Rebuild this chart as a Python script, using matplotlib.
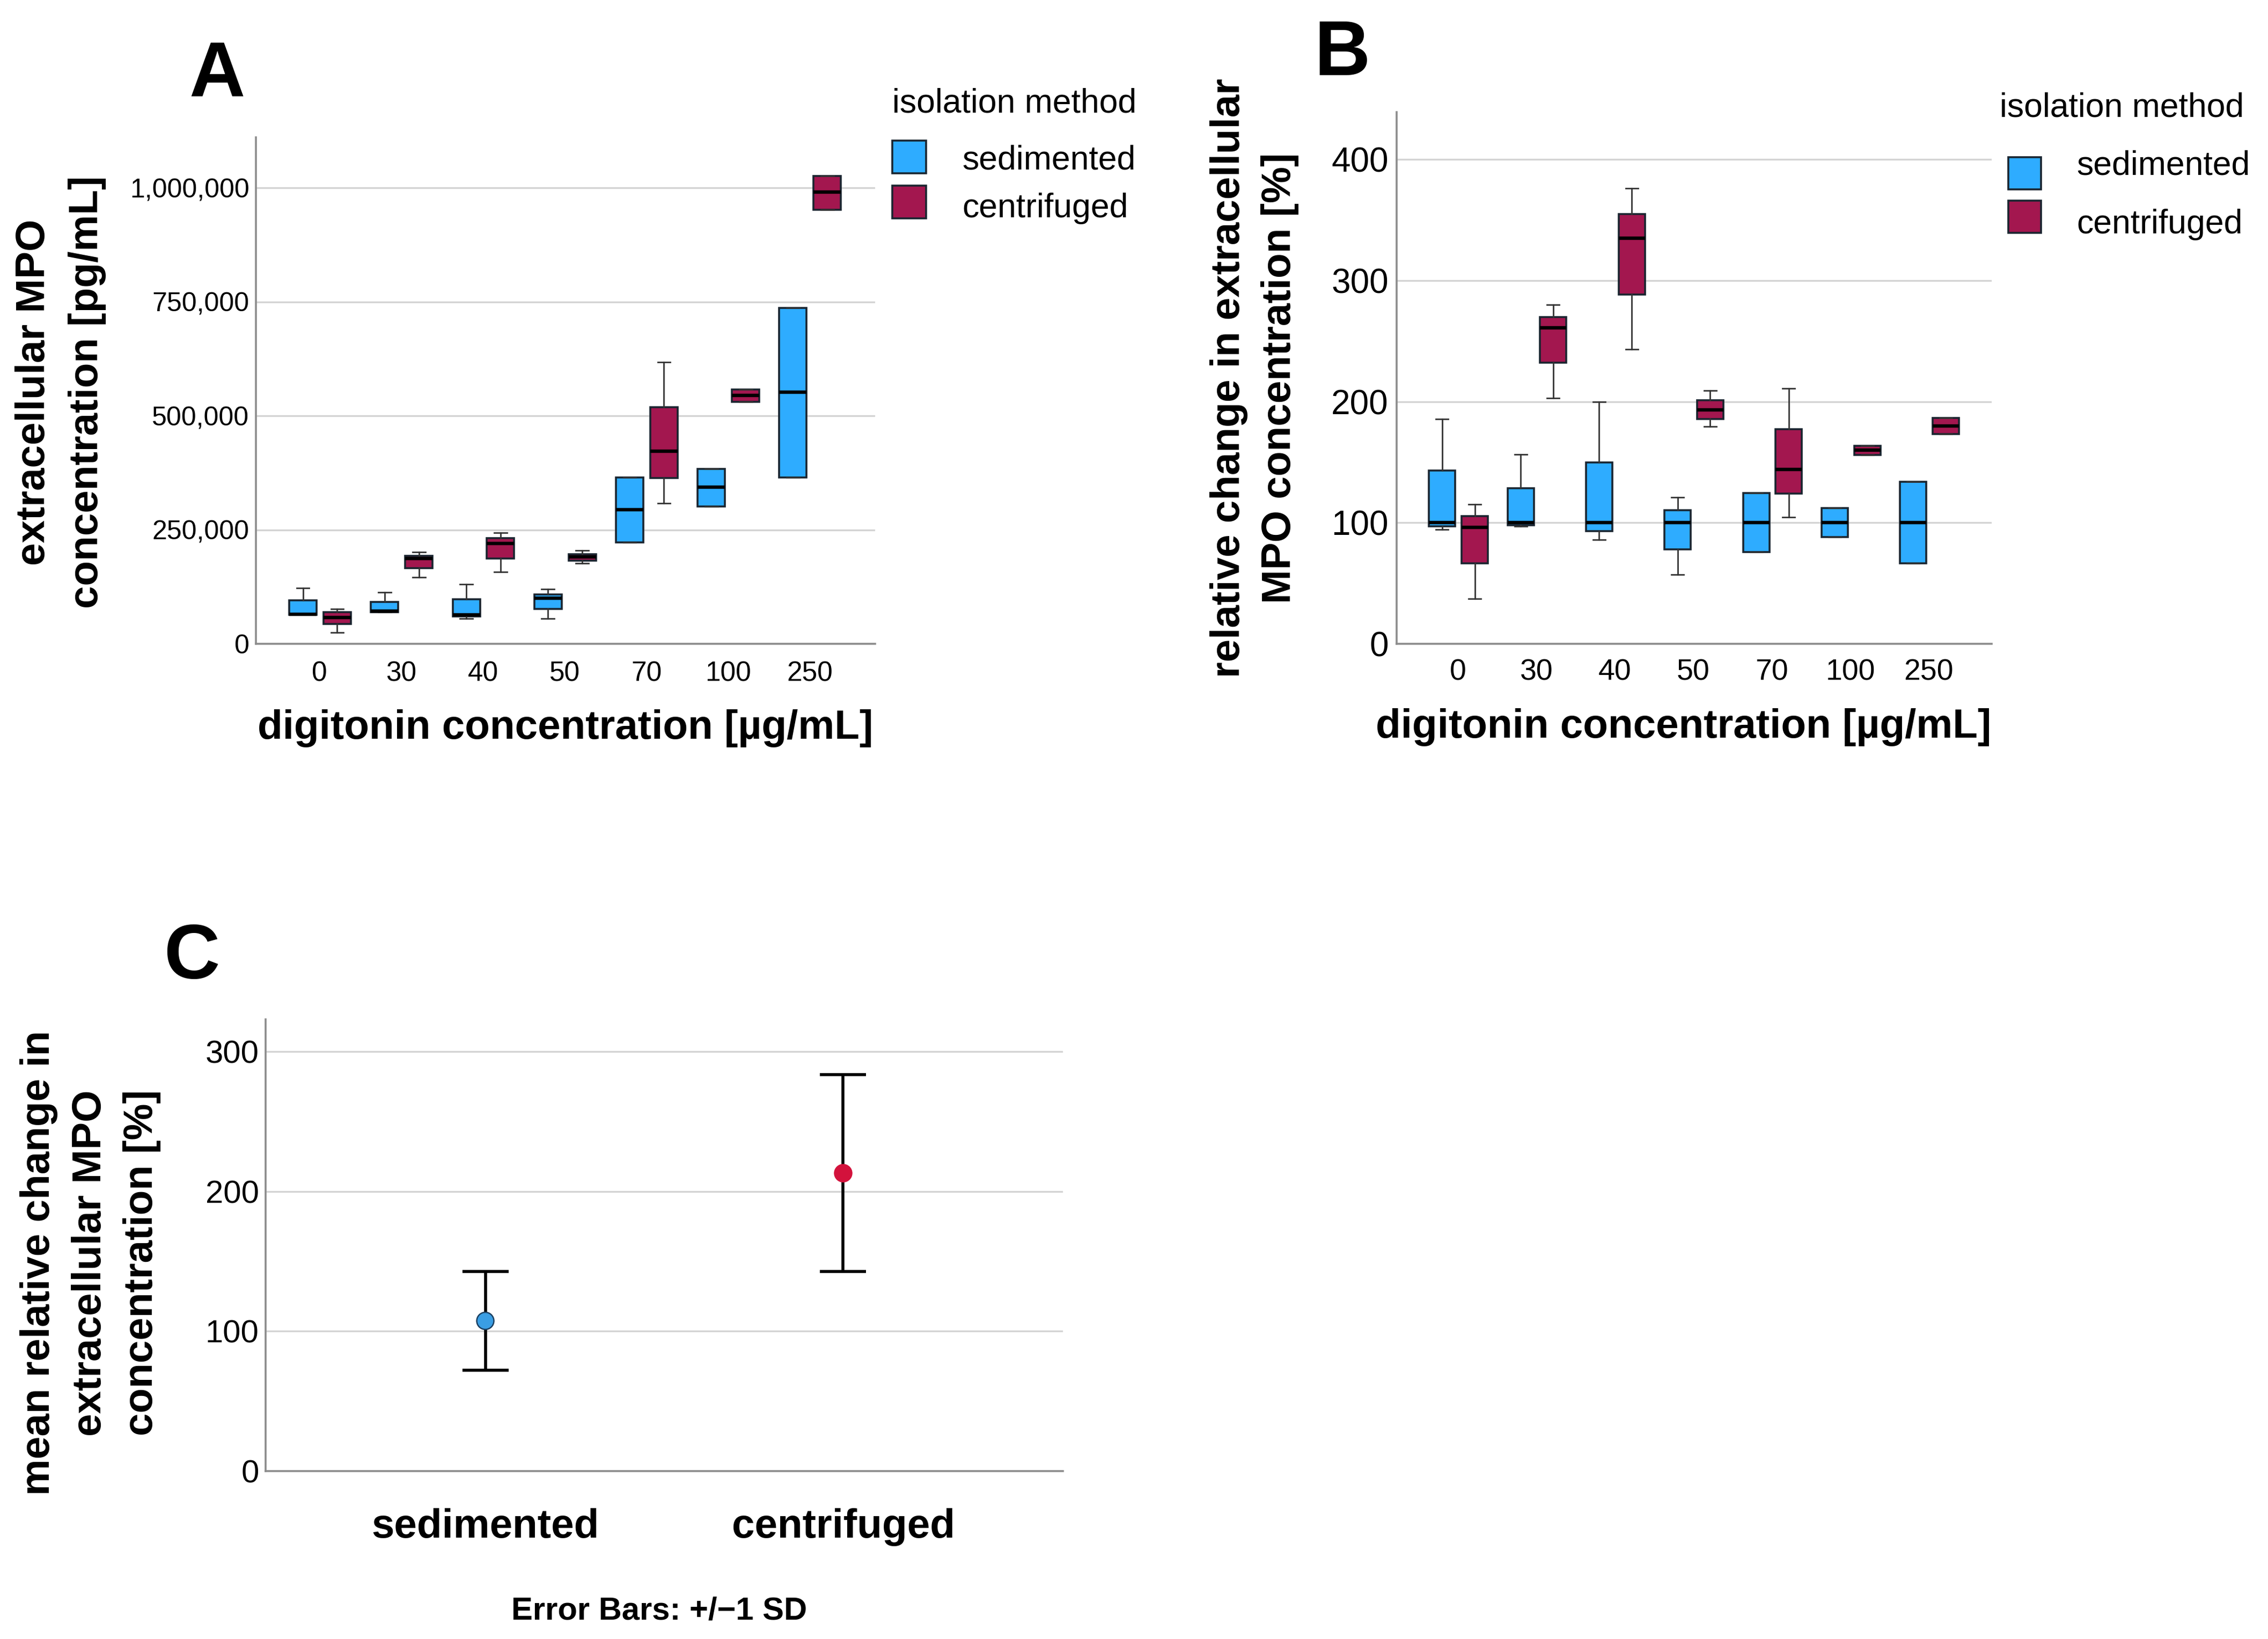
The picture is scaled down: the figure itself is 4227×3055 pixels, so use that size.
import matplotlib
matplotlib.use('Agg')
import matplotlib.pyplot as plt
from matplotlib.patches import Rectangle
from matplotlib.ticker import FuncFormatter

W, H = 4227, 3055
DPI = 100
plt.rcParams['font.family'] = ['Liberation Sans', 'DejaVu Sans']

# ---------------- data ----------------
concentrations = ['0', '30', '40', '50', '70', '100', '250']
methods = ['sedimented', 'centrifuged']

# Panel A: extracellular MPO concentration [pg/mL]  (whisker low, Q1, median, Q3, whisker high)
sed_A_lo  = [63000, 70000, 55000, 55000, 222000, 301000, 365000]
sed_A_q1  = [63000, 70000, 60000, 77000, 222000, 301000, 365000]
sed_A_med = [65000, 72000, 64000, 100000, 293600, 343000, 552000]
sed_A_q3  = [95000, 92000, 98000, 108500, 365000, 383000, 737000]
sed_A_hi  = [122500, 113000, 131000, 120000, 365000, 383000, 737000]

cen_A_lo  = [25000, 145600, 158000, 176000, 308000, 531000, 951600]
cen_A_q1  = [44000, 166000, 187000, 182500, 364000, 531000, 951600]
cen_A_med = [58000, 187000, 220000, 191000, 422700, 544400, 991000]
cen_A_q3  = [69000, 193000, 232000, 196500, 519000, 558000, 1025600]
cen_A_hi  = [76000, 200600, 244000, 205000, 617600, 558000, 1025600]

# Panel B: relative change in extracellular MPO concentration [%]
sed_B_lo  = [94.5, 97, 86, 57, 75.6, 88, 66.6]
sed_B_q1  = [97, 98, 93, 78, 75.6, 88, 66.6]
sed_B_med = [100, 100, 100, 100, 100, 100, 100]
sed_B_q3  = [143, 128.6, 149.7, 110.4, 124.7, 112, 133.8]
sed_B_hi  = [185.7, 156.5, 200, 121, 124.7, 112, 133.8]

cen_B_lo  = [37, 203, 243, 179.5, 104.5, 155.8, 173.4]
cen_B_q1  = [66.6, 232, 288.6, 185.7, 124, 155.8, 173.4]
cen_B_med = [96, 261, 334.7, 193, 143.8, 159.7, 180]
cen_B_q3  = [105.5, 270, 355, 201, 177, 163.3, 186.4]
cen_B_hi  = [115, 280, 376, 209, 210.7, 163.3, 186.4]

# Panel C: mean relative change +/- 1 SD
mean_C = [107.4, 213.0]
sd_C = [35.3, 70.4]

A_yticks = [0, 250000, 500000, 750000, 1000000]
B_yticks = [0, 100, 200, 300, 400]
C_yticks = [0, 100, 200, 300]

# ---------------- style ----------------
BLUE = '#2EACFF'
MAROON = '#A3174F'
EDGE = '#1A2530'
GRID = '#D4D4D4'
SPINE = '#8C8C8C'
C_BLUE = '#3A9EE4'
C_RED = '#D3123C'


def fx(x):
    return x / W


def fy(y):
    return 1 - y / H


def make_axes(fig, left, top, right, bottom):
    ax = fig.add_axes([fx(left), fy(bottom), (right - left) / W, (bottom - top) / H])
    for s in ('top', 'right'):
        ax.spines[s].set_visible(False)
    for s in ('left', 'bottom'):
        ax.spines[s].set_color(SPINE)
        ax.spines[s].set_linewidth(2.6)
    ax.yaxis.grid(True, color=GRID, linewidth=2.4)
    ax.set_axisbelow(True)
    ax.tick_params(length=0)
    return ax


def stats(lo, q1, med, q3, hi):
    return [dict(whislo=a, q1=b, med=c, q3=d, whishi=e, fliers=[])
            for a, b, c, d, e in zip(lo, q1, med, q3, hi)]


def draw_boxes(ax, st, offset, color):
    pos = [i + offset for i in range(len(st))]
    ax.bxp(st, positions=pos, widths=0.335, capwidths=0.157, patch_artist=True,
           showfliers=False,
           boxprops=dict(facecolor=color, edgecolor=EDGE, linewidth=2.6),
           medianprops=dict(color='black', linewidth=4.6, solid_capstyle='butt'),
           whiskerprops=dict(color='#333333', linewidth=2.0),
           capprops=dict(color='#333333', linewidth=2.0),
           manage_ticks=False)


def draw_legend(fig, title_x, title_base, patch_x, patch_w, patch_ys, text_x, text_bases):
    fig.text(fx(title_x), fy(title_base), 'isolation method', fontsize=45,
             ha='left', va='baseline')
    for (y0, y1), col, lab, tb in zip(patch_ys, [BLUE, MAROON], methods, text_bases):
        fig.patches.append(Rectangle((fx(patch_x), fy(y1)), patch_w / W, (y1 - y0) / H,
                                     transform=fig.transFigure, facecolor=col,
                                     edgecolor=EDGE, linewidth=2.6))
        fig.text(fx(text_x), fy(tb), lab, fontsize=45, ha='left', va='baseline')


def ylabel_lines(fig, lines, xs, yc):
    for t, x in zip(lines, xs):
        fig.text(fx(x), fy(yc), t, rotation=90, rotation_mode='anchor',
                 ha='center', va='baseline', fontsize=55, fontweight='bold')


fig = plt.figure(figsize=(W / DPI, H / DPI), dpi=DPI)
fig.patch.set_facecolor('white')

# ---------------- Panel A ----------------
axA = make_axes(fig, 477, 256, 1631, 1200)
draw_boxes(axA, stats(sed_A_lo, sed_A_q1, sed_A_med, sed_A_q3, sed_A_hi), -0.205, BLUE)
draw_boxes(axA, stats(cen_A_lo, cen_A_q1, cen_A_med, cen_A_q3, cen_A_hi), 0.215, MAROON)
axA.set_xlim(-0.78, 6.8)
axA.set_ylim(0, 1.1106e6)
axA.set_yticks(A_yticks)
axA.yaxis.set_major_formatter(FuncFormatter(lambda v, p: f'{int(v):,}'))
axA.set_xticks(range(len(concentrations)))
axA.set_xticklabels(concentrations)
axA.tick_params(axis='y', labelsize=36, pad=9)
axA.tick_params(axis='x', labelsize=37, pad=23)
fig.text(fx(1054), fy(1377), 'digitonin concentration [µg/mL]', fontsize=55,
         fontweight='bold', ha='center', va='baseline')
ylabel_lines(fig, ['extracellular MPO', 'concentration [pg/mL]'], [83, 182], 731)
fig.text(fx(352), fy(180), 'A', fontsize=104, fontweight='bold', ha='left', va='baseline')
draw_legend(fig, 1663, 209, 1663, 63, [(262, 323), (346, 407)], 1793, [315, 405])

# ---------------- Panel B ----------------
axB = make_axes(fig, 2603, 209, 3712, 1200)
draw_boxes(axB, stats(sed_B_lo, sed_B_q1, sed_B_med, sed_B_q3, sed_B_hi), -0.2, BLUE)
draw_boxes(axB, stats(cen_B_lo, cen_B_q1, cen_B_med, cen_B_q3, cen_B_hi), 0.215, MAROON)
axB.set_xlim(-0.78, 6.8)
axB.set_ylim(0, 439)
axB.set_yticks(B_yticks)
axB.set_xticks(range(len(concentrations)))
axB.set_xticklabels(concentrations)
axB.tick_params(axis='y', labelsize=46, pad=11)
axB.tick_params(axis='x', labelsize=40, pad=20)
fig.text(fx(3138), fy(1375), 'digitonin concentration [µg/mL]', fontsize=55,
         fontweight='bold', ha='center', va='baseline')
ylabel_lines(fig, ['relative change in extracellular', 'MPO concentration [%]'], [2310, 2405], 705)
fig.text(fx(2449), fy(140), 'B', fontsize=104, fontweight='bold', ha='left', va='baseline')
draw_legend(fig, 3727, 217, 3743, 61, [(293, 353), (374, 434)], 3870, [325, 435])

# ---------------- Panel C ----------------
axC = make_axes(fig, 495, 1900, 1981, 2742)
xs = list(range(len(methods)))
axC.errorbar(xs, mean_C, yerr=sd_C, fmt='none', ecolor='black', elinewidth=4.0,
             capsize=31, capthick=4.0, zorder=3)
axC.scatter(xs, mean_C, s=23 ** 2, c=[C_BLUE, C_RED], edgecolors=['#1B3F60', C_RED],
            linewidths=1.8, zorder=4)
axC.set_xlim(-0.614, 1.614)
axC.set_ylim(0, 323)
axC.set_yticks(C_yticks)
axC.set_xticks(xs)
axC.set_xticklabels(methods, fontweight='bold')
axC.tick_params(axis='y', labelsize=43, pad=9)
axC.tick_params(axis='x', labelsize=55, pad=50)
fig.text(fx(1229), fy(3003), 'Error Bars: +/\u22121 SD', fontsize=43, fontweight='bold',
         ha='center', va='center')
ylabel_lines(fig, ['mean relative change in', 'extracellular MPO', 'concentration [%]'],
             [92, 188, 284], 2354)
fig.text(fx(305), fy(1824), 'C', fontsize=104, fontweight='bold', ha='left', va='baseline')

fig.savefig('out.png', dpi=DPI, facecolor='white')
